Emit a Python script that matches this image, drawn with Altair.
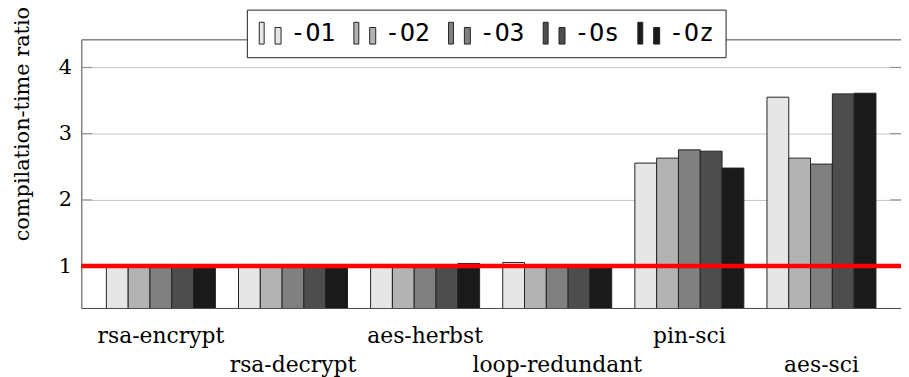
import altair as alt
import pandas as pd

benchmarks = ["rsa-encrypt", "rsa-decrypt", "aes-herbst", "loop-redundant", "pin-sci", "aes-sci"]
opts = ["-O1", "-O2", "-O3", "-Os", "-Oz"]
o1 = [1.0, 1.0, 1.0, 1.055, 2.555, 3.55]
o2 = [1.0, 1.0, 1.0, 1.0, 2.63, 2.63]
o3 = [1.0, 1.0, 1.0, 1.0, 2.755, 2.54]
os_ = [1.0, 1.0, 1.0, 1.0, 2.735, 3.60]
oz = [1.0, 1.0, 1.04, 1.0, 2.48, 3.61]
colors = ["#e6e6e6", "#b3b3b3", "#808080", "#4d4d4d", "#1a1a1a"]
y_ticks = [1, 2, 3, 4]
reference = [1.0]
second_row = ["rsa-decrypt", "loop-redundant", "aes-sci"]

series = [o1, o2, o3, os_, oz]
rows = []
for opt, vals in zip(opts, series):
    for b, v in zip(benchmarks, vals):
        rows.append({"bench": b, "opt": opt, "ratio": v})
df = pd.DataFrame(rows)

W = 827
H = 271
ydom = [0.368, 4.423]
yscale = alt.Scale(domain=ydom, nice=False, zero=False)

row2_test = "indexof([" + ",".join("'%s'" % s for s in second_row) + "], datum.value) >= 0"

sym = "M-1,-1H-0.55V1H-1Z M0.45,-0.52H1V1H0.45Z"

bars = alt.Chart(df).mark_bar(stroke="#222", strokeWidth=1, clip=True).encode(
    x=alt.X("bench:N", sort=benchmarks,
            scale=alt.Scale(paddingInner=0, paddingOuter=0.102),
            axis=alt.Axis(title=None, labelAngle=0, ticks=False, domain=False, grid=False,
                          labelFont="DejaVu Serif", labelFontSize=22, labelColor="black",
                          labelBaseline="alphabetic", labelOverlap=False, labelLimit=500,
                          labelPadding={"condition": {"test": row2_test, "value": 64}, "value": 35})),
    xOffset=alt.XOffset("opt:N", sort=opts, scale=alt.Scale(paddingInner=0, paddingOuter=0.53)),
    y=alt.Y("ratio:Q", scale=yscale,
            axis=alt.Axis(values=y_ticks, format="d", ticks=False, domain=False, grid=True,
                          gridColor="#c4c4c4", gridWidth=1,
                          labelFont="DejaVu Serif", labelFontSize=21, labelColor="black",
                          labelPadding=10,
                          title="compilation-time ratio", titleFont="DejaVu Serif",
                          titleFontSize=21, titleFontWeight="normal", titleColor="black",
                          titleX=-53, titleY=85, titleBaseline="alphabetic")),
    color=alt.Color("opt:N", sort=opts, scale=alt.Scale(domain=opts, range=colors),
                    legend=alt.Legend(title=None, orient="none", legendX=167, legendY=-30,
                                      direction="horizontal", columns=5,
                                      symbolType=sym, symbolSize=484,
                                      symbolStrokeColor="#222", symbolStrokeWidth=1,
                                      symbolOpacity=1,
                                      labelFont="DejaVu Sans Mono", labelFontSize=25,
                                      labelColor="black", labelOffset=8, columnPadding=15.5,
                                      padding=11, strokeColor="#222", fillColor="white",
                                      cornerRadius=0)),
)

tick_df = pd.DataFrame({"ratio": y_ticks})
left_ticks = alt.Chart(tick_df).mark_rule(color="#8a8a8a", strokeWidth=1).encode(
    y=alt.Y("ratio:Q", scale=yscale), x=alt.value(0), x2=alt.value(11))
right_ticks = alt.Chart(tick_df).mark_rule(color="#8a8a8a", strokeWidth=1).encode(
    y=alt.Y("ratio:Q", scale=yscale), x=alt.value(W - 11), x2=alt.value(W))

ref = alt.Chart(pd.DataFrame({"ratio": reference})).mark_rule(color="#ff0000", strokeWidth=4.5).encode(
    y=alt.Y("ratio:Q", scale=yscale))

chart = alt.layer(bars, left_ticks, right_ticks, ref).properties(
    width=W, height=H,
    autosize=alt.AutoSizeParams(type="none"),
    padding={"left": 74, "top": 30, "right": 0, "bottom": 68},
).configure_view(stroke="#444", strokeWidth=1)

chart.save("out.html", embed_options={"renderer": "svg", "actions": False})
